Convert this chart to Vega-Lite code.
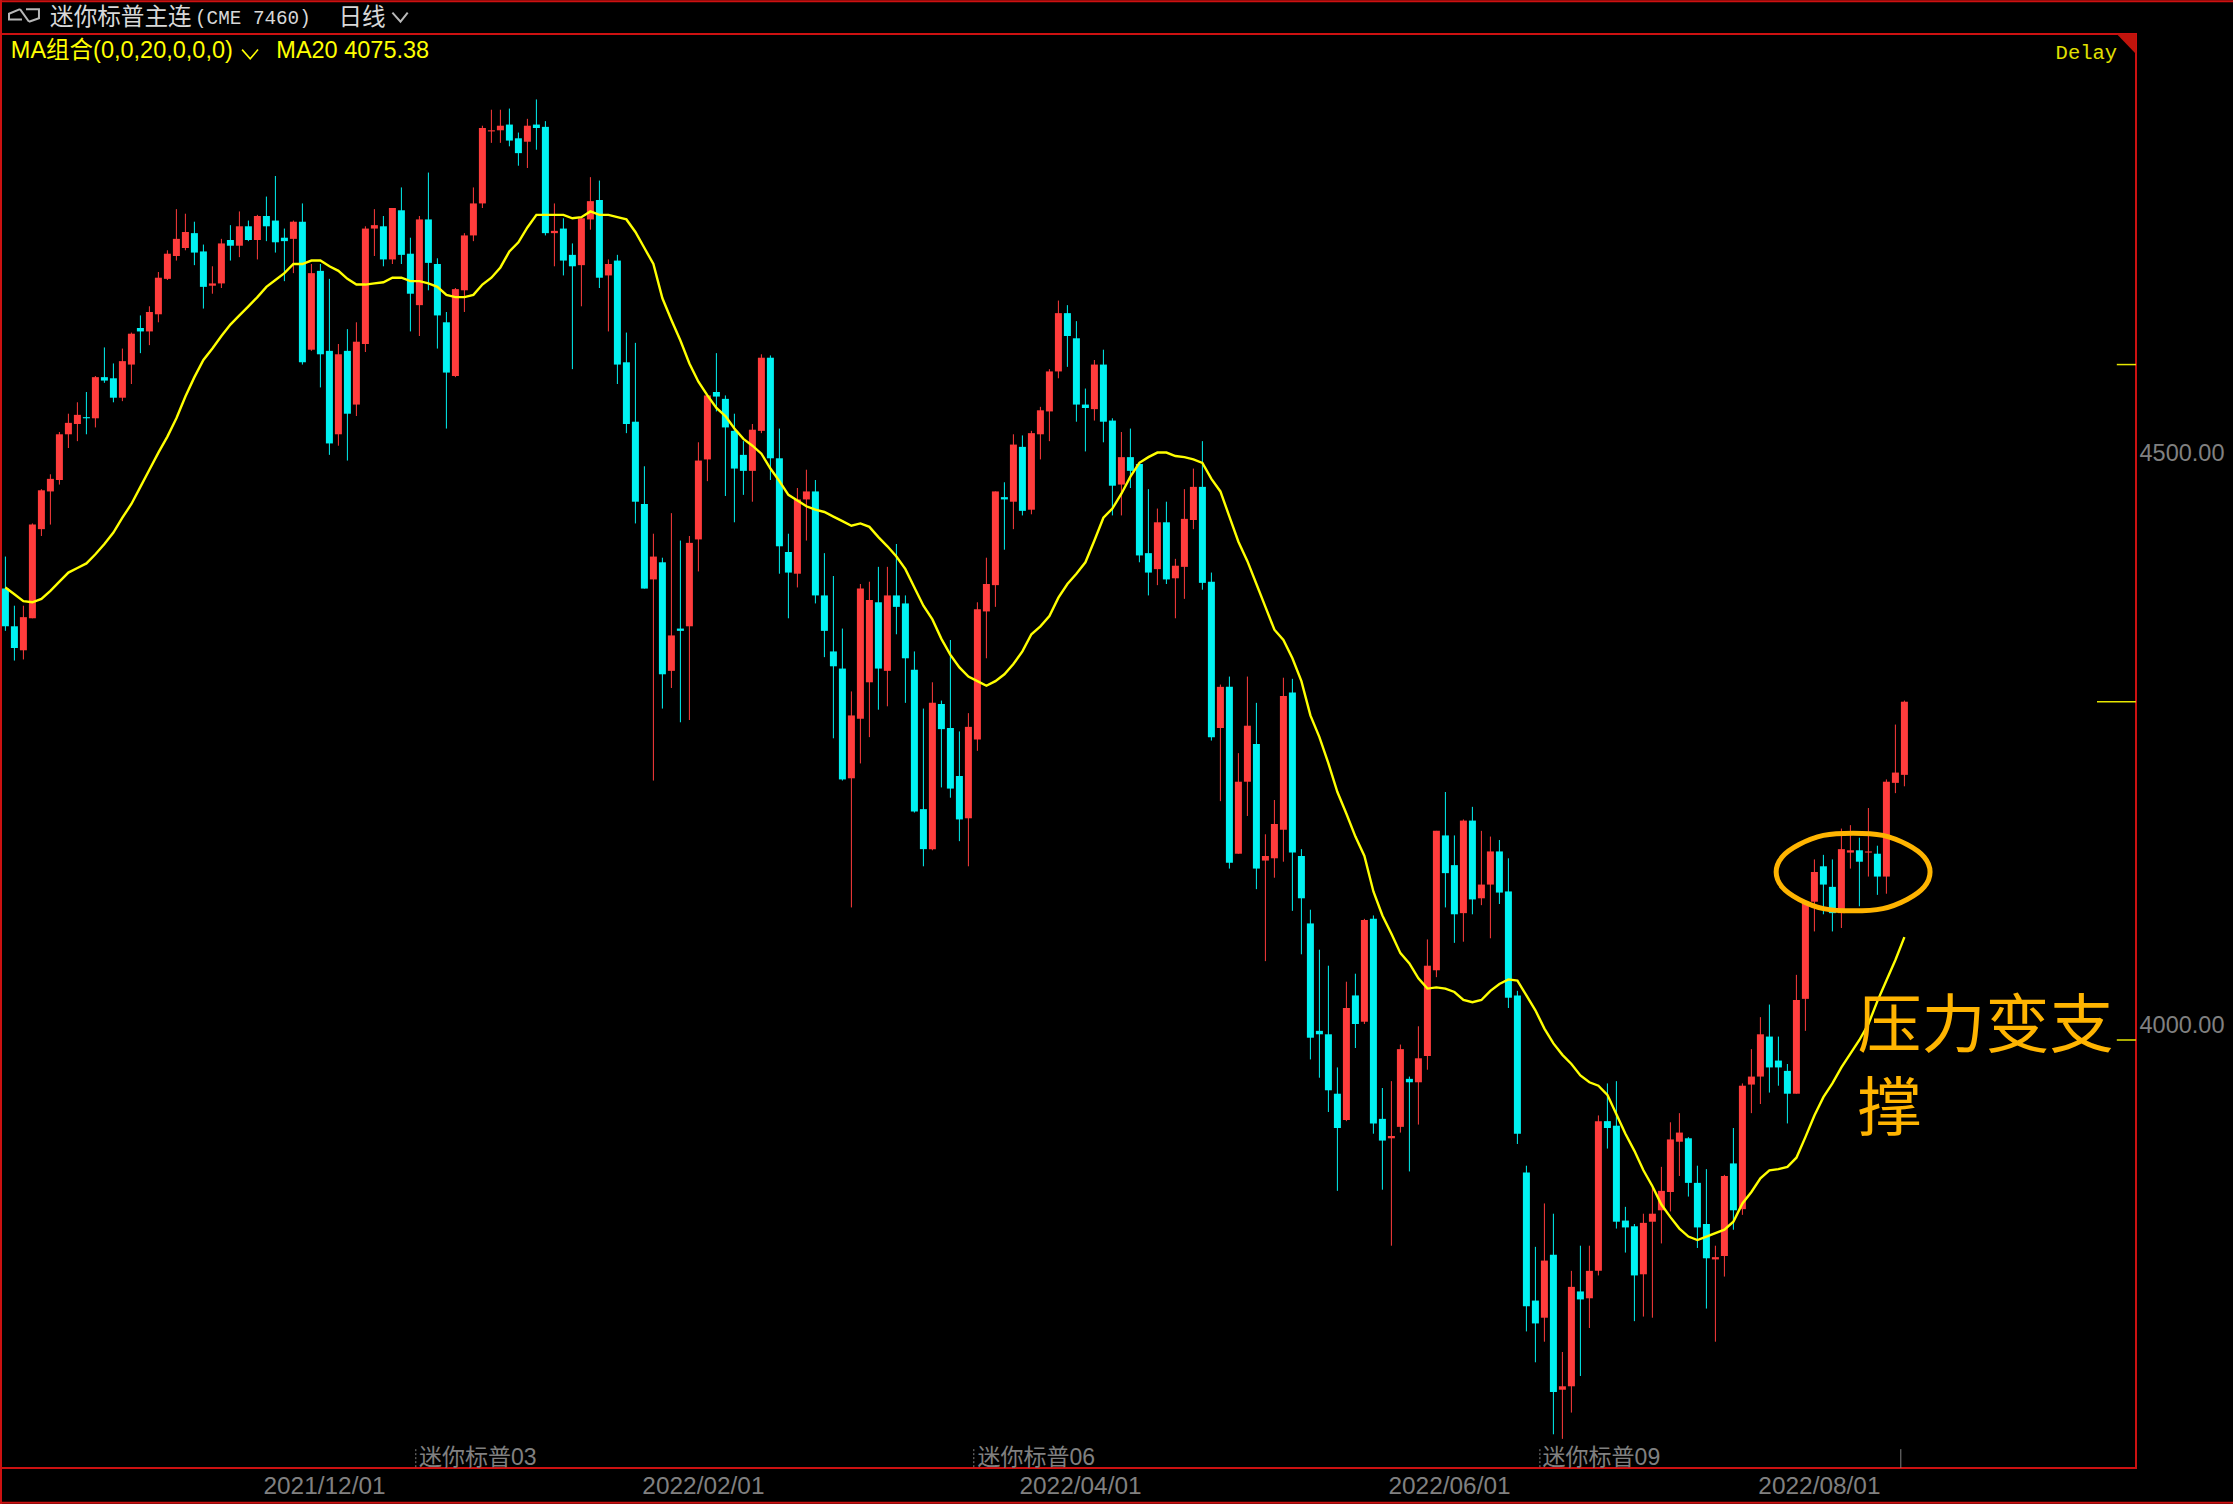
{"$schema":"https://vega.github.io/schema/vega-lite/v6.json","width":2135,"height":1434,"padding":{"left":1,"top":34,"right":97,"bottom":36},"autosize":{"type":"none"},"background":"#000000","view":{"stroke":"#cc1111","strokeWidth":2,"fill":"#000000"},"config":{"scale":{"continuousPadding":0}},
"datasets":{"bars":[
{"i":0,"o":4395,"h":4423,"l":4358,"c":4362,"m":4396},{"i":1,"o":4362,"h":4380,"l":4332,"c":4343,"m":4390},{"i":2,"o":4341,"h":4380,"l":4333,"c":4370,"m":4384},{"i":3,"o":4369,"h":4452,"l":4369,"c":4451,"m":4383},{"i":4,"o":4447,"h":4482,"l":4441,"c":4481,"m":4386},{"i":5,"o":4480,"h":4495,"l":4451,"c":4491,"m":4393},{"i":6,"o":4490,"h":4532,"l":4486,"c":4530,"m":4401},{"i":7,"o":4530,"h":4548,"l":4518,"c":4540,"m":4409},{"i":8,"o":4539,"h":4558,"l":4524,"c":4547,"m":4413},{"i":9,"o":4545,"h":4567,"l":4530,"c":4544,"m":4417},
{"i":10,"o":4544,"h":4581,"l":4536,"c":4580,"m":4425},{"i":11,"o":4580,"h":4606,"l":4575,"c":4577,"m":4434},{"i":12,"o":4579,"h":4592,"l":4558,"c":4562,"m":4444},{"i":13,"o":4562,"h":4605,"l":4559,"c":4594,"m":4457},{"i":14,"o":4591,"h":4619,"l":4574,"c":4618,"m":4469},{"i":15,"o":4623,"h":4634,"l":4601,"c":4620,"m":4484},{"i":16,"o":4620,"h":4642,"l":4608,"c":4637,"m":4499},{"i":17,"o":4635,"h":4672,"l":4628,"c":4667,"m":4514},{"i":18,"o":4666,"h":4691,"l":4665,"c":4688,"m":4528},{"i":19,"o":4686,"h":4727,"l":4682,"c":4701,"m":4544},
{"i":20,"o":4693,"h":4723,"l":4691,"c":4707,"m":4563},{"i":21,"o":4706,"h":4716,"l":4678,"c":4689,"m":4580},{"i":22,"o":4690,"h":4696,"l":4640,"c":4659,"m":4595},{"i":23,"o":4660,"h":4677,"l":4653,"c":4662,"m":4605},{"i":24,"o":4662,"h":4701,"l":4658,"c":4697,"m":4616},{"i":25,"o":4700,"h":4713,"l":4682,"c":4695,"m":4626},{"i":26,"o":4695,"h":4725,"l":4685,"c":4712,"m":4634},{"i":27,"o":4712,"h":4717,"l":4699,"c":4700,"m":4642},{"i":28,"o":4700,"h":4722,"l":4683,"c":4721,"m":4650},{"i":29,"o":4721,"h":4738,"l":4699,"c":4712,"m":4659},
{"i":30,"o":4717,"h":4756,"l":4689,"c":4698,"m":4665},{"i":31,"o":4702,"h":4710,"l":4664,"c":4699,"m":4671},{"i":32,"o":4701,"h":4717,"l":4671,"c":4716,"m":4679},{"i":33,"o":4716,"h":4732,"l":4591,"c":4593,"m":4679},{"i":34,"o":4604,"h":4679,"l":4603,"c":4671,"m":4682},{"i":35,"o":4673,"h":4679,"l":4571,"c":4600,"m":4682},{"i":36,"o":4603,"h":4666,"l":4512,"c":4522,"m":4677},{"i":37,"o":4530,"h":4609,"l":4520,"c":4600,"m":4673},{"i":38,"o":4603,"h":4622,"l":4507,"c":4548,"m":4666},{"i":39,"o":4556,"h":4628,"l":4546,"c":4611,"m":4661},
{"i":40,"o":4609,"h":4712,"l":4602,"c":4710,"m":4661},{"i":41,"o":4710,"h":4727,"l":4686,"c":4713,"m":4662},{"i":42,"o":4712,"h":4721,"l":4677,"c":4683,"m":4663},{"i":43,"o":4683,"h":4728,"l":4679,"c":4728,"m":4667},{"i":44,"o":4726,"h":4746,"l":4679,"c":4687,"m":4667},{"i":45,"o":4688,"h":4702,"l":4620,"c":4653,"m":4664},{"i":46,"o":4643,"h":4721,"l":4616,"c":4718,"m":4664},{"i":47,"o":4718,"h":4759,"l":4656,"c":4680,"m":4662},{"i":48,"o":4679,"h":4684,"l":4605,"c":4634,"m":4659},{"i":49,"o":4628,"h":4637,"l":4535,"c":4584,"m":4652},
{"i":50,"o":4581,"h":4658,"l":4580,"c":4657,"m":4650},{"i":51,"o":4656,"h":4706,"l":4637,"c":4704,"m":4650},{"i":52,"o":4704,"h":4746,"l":4699,"c":4732,"m":4652},{"i":53,"o":4732,"h":4800,"l":4728,"c":4798,"m":4661},{"i":54,"o":4795,"h":4814,"l":4785,"c":4796,"m":4667},{"i":55,"o":4796,"h":4814,"l":4785,"c":4800,"m":4676},{"i":56,"o":4801,"h":4815,"l":4782,"c":4787,"m":4690},{"i":57,"o":4789,"h":4794,"l":4765,"c":4776,"m":4698},{"i":58,"o":4786,"h":4806,"l":4763,"c":4800,"m":4711},{"i":59,"o":4801,"h":4823,"l":4779,"c":4798,"m":4722},
{"i":60,"o":4799,"h":4804,"l":4704,"c":4706,"m":4722},{"i":61,"o":4706,"h":4732,"l":4677,"c":4708,"m":4722},{"i":62,"o":4710,"h":4719,"l":4669,"c":4682,"m":4722},{"i":63,"o":4687,"h":4697,"l":4587,"c":4677,"m":4719},{"i":64,"o":4678,"h":4719,"l":4642,"c":4719,"m":4720},{"i":65,"o":4718,"h":4755,"l":4709,"c":4734,"m":4725},{"i":66,"o":4735,"h":4752,"l":4658,"c":4667,"m":4722},{"i":67,"o":4669,"h":4683,"l":4620,"c":4679,"m":4722},{"i":68,"o":4682,"h":4687,"l":4574,"c":4591,"m":4720},{"i":69,"o":4593,"h":4619,"l":4531,"c":4539,"m":4718},
{"i":70,"o":4541,"h":4610,"l":4452,"c":4471,"m":4707},{"i":71,"o":4469,"h":4502,"l":4395,"c":4395,"m":4693},{"i":72,"o":4403,"h":4443,"l":4227,"c":4423,"m":4679},{"i":73,"o":4418,"h":4422,"l":4290,"c":4320,"m":4649},{"i":74,"o":4323,"h":4461,"l":4308,"c":4354,"m":4630},{"i":75,"o":4360,"h":4437,"l":4278,"c":4358,"m":4612},{"i":76,"o":4362,"h":4441,"l":4280,"c":4435,"m":4592},{"i":77,"o":4438,"h":4523,"l":4410,"c":4507,"m":4576},{"i":78,"o":4508,"h":4564,"l":4489,"c":4564,"m":4564},{"i":79,"o":4567,"h":4601,"l":4550,"c":4563,"m":4553},
{"i":80,"o":4561,"h":4564,"l":4476,"c":4536,"m":4546},{"i":81,"o":4533,"h":4548,"l":4453,"c":4500,"m":4535},{"i":82,"o":4512,"h":4524,"l":4477,"c":4498,"m":4526},{"i":83,"o":4498,"h":4539,"l":4471,"c":4534,"m":4520},{"i":84,"o":4533,"h":4600,"l":4531,"c":4597,"m":4513},{"i":85,"o":4597,"h":4599,"l":4490,"c":4509,"m":4500},{"i":86,"o":4509,"h":4535,"l":4408,"c":4432,"m":4489},{"i":87,"o":4427,"h":4443,"l":4369,"c":4409,"m":4477},{"i":88,"o":4408,"h":4483,"l":4396,"c":4473,"m":4472},{"i":89,"o":4473,"h":4499,"l":4437,"c":4480,"m":4467},
{"i":90,"o":4480,"h":4490,"l":4382,"c":4389,"m":4464},{"i":91,"o":4389,"h":4426,"l":4335,"c":4358,"m":4462},{"i":92,"o":4340,"h":4406,"l":4264,"c":4327,"m":4458},{"i":93,"o":4325,"h":4360,"l":4227,"c":4228,"m":4454},{"i":94,"o":4229,"h":4305,"l":4116,"c":4284,"m":4450},{"i":95,"o":4281,"h":4399,"l":4242,"c":4395,"m":4452},{"i":96,"o":4313,"h":4401,"l":4265,"c":4385,"m":4449},{"i":97,"o":4383,"h":4414,"l":4289,"c":4325,"m":4440},{"i":98,"o":4323,"h":4414,"l":4292,"c":4389,"m":4432},{"i":99,"o":4389,"h":4434,"l":4355,"c":4379,"m":4423},
{"i":100,"o":4382,"h":4389,"l":4295,"c":4334,"m":4412},{"i":101,"o":4324,"h":4340,"l":4199,"c":4200,"m":4396},{"i":102,"o":4202,"h":4290,"l":4152,"c":4167,"m":4380},{"i":103,"o":4167,"h":4313,"l":4166,"c":4295,"m":4368},{"i":104,"o":4294,"h":4297,"l":4221,"c":4272,"m":4351},{"i":105,"o":4273,"h":4350,"l":4212,"c":4220,"m":4337},{"i":106,"o":4231,"h":4270,"l":4174,"c":4193,"m":4326},{"i":107,"o":4194,"h":4286,"l":4152,"c":4274,"m":4318},{"i":108,"o":4263,"h":4383,"l":4253,"c":4377,"m":4314},{"i":109,"o":4375,"h":4422,"l":4334,"c":4399,"m":4310},
{"i":110,"o":4398,"h":4480,"l":4379,"c":4480,"m":4314},{"i":111,"o":4475,"h":4488,"l":4429,"c":4473,"m":4320},{"i":112,"o":4471,"h":4530,"l":4447,"c":4521,"m":4329},{"i":113,"o":4519,"h":4529,"l":4459,"c":4463,"m":4340},{"i":114,"o":4464,"h":4533,"l":4460,"c":4531,"m":4355},{"i":115,"o":4530,"h":4554,"l":4508,"c":4551,"m":4362},{"i":116,"o":4550,"h":4587,"l":4524,"c":4585,"m":4371},{"i":117,"o":4585,"h":4647,"l":4579,"c":4636,"m":4387},{"i":118,"o":4636,"h":4643,"l":4589,"c":4616,"m":4399},{"i":119,"o":4614,"h":4629,"l":4541,"c":4556,"m":4408},
{"i":120,"o":4556,"h":4570,"l":4515,"c":4553,"m":4418},{"i":121,"o":4552,"h":4595,"l":4542,"c":4591,"m":4437},{"i":122,"o":4591,"h":4604,"l":4523,"c":4541,"m":4457},{"i":123,"o":4542,"h":4544,"l":4459,"c":4485,"m":4465},{"i":124,"o":4486,"h":4532,"l":4459,"c":4510,"m":4478},{"i":125,"o":4510,"h":4535,"l":4483,"c":4498,"m":4493},{"i":126,"o":4504,"h":4506,"l":4418,"c":4424,"m":4505},{"i":127,"o":4426,"h":4482,"l":4389,"c":4409,"m":4510},{"i":128,"o":4412,"h":4465,"l":4398,"c":4453,"m":4514},{"i":129,"o":4453,"h":4471,"l":4399,"c":4403,"m":4514},
{"i":130,"o":4404,"h":4421,"l":4369,"c":4415,"m":4511},{"i":131,"o":4414,"h":4482,"l":4386,"c":4456,"m":4510},{"i":132,"o":4455,"h":4500,"l":4447,"c":4484,"m":4508},{"i":133,"o":4484,"h":4524,"l":4394,"c":4400,"m":4505},{"i":134,"o":4401,"h":4409,"l":4262,"c":4265,"m":4491},{"i":135,"o":4273,"h":4311,"l":4209,"c":4309,"m":4480},{"i":136,"o":4309,"h":4318,"l":4150,"c":4155,"m":4458},{"i":137,"o":4163,"h":4251,"l":4163,"c":4226,"m":4436},{"i":138,"o":4226,"h":4318,"l":4196,"c":4275,"m":4419},{"i":139,"o":4259,"h":4295,"l":4132,"c":4150,"m":4399},
{"i":140,"o":4157,"h":4180,"l":4069,"c":4161,"m":4379},{"i":141,"o":4159,"h":4210,"l":4142,"c":4189,"m":4359},{"i":142,"o":4184,"h":4317,"l":4156,"c":4301,"m":4350},{"i":143,"o":4304,"h":4316,"l":4113,"c":4164,"m":4334},{"i":144,"o":4161,"h":4167,"l":4075,"c":4124,"m":4314},{"i":145,"o":4102,"h":4114,"l":3983,"c":4002,"m":4284},{"i":146,"o":4008,"h":4079,"l":3967,"c":4005,"m":4265},{"i":147,"o":4005,"h":4065,"l":3937,"c":3956,"m":4242},{"i":148,"o":3953,"h":3976,"l":3868,"c":3923,"m":4217},{"i":149,"o":3930,"h":4051,"l":3929,"c":4028,"m":4198},
{"i":150,"o":4039,"h":4058,"l":3993,"c":4014,"m":4178},{"i":151,"o":4016,"h":4106,"l":4014,"c":4105,"m":4161},{"i":152,"o":4106,"h":4109,"l":3918,"c":3927,"m":4130},{"i":153,"o":3931,"h":3958,"l":3869,"c":3912,"m":4109},{"i":154,"o":3914,"h":3964,"l":3820,"c":3916,"m":4093},{"i":155,"o":3924,"h":3996,"l":3919,"c":3992,"m":4076},{"i":156,"o":3966,"h":3968,"l":3885,"c":3963,"m":4067},{"i":157,"o":3963,"h":4012,"l":3926,"c":3984,"m":4054},{"i":158,"o":3986,"h":4088,"l":3974,"c":4065,"m":4045},{"i":159,"o":4061,"h":4183,"l":4055,"c":4183,"m":4046},
{"i":160,"o":4179,"h":4217,"l":4116,"c":4146,"m":4045},{"i":161,"o":4153,"h":4179,"l":4085,"c":4110,"m":4042},{"i":162,"o":4111,"h":4193,"l":4086,"c":4192,"m":4035},{"i":163,"o":4192,"h":4204,"l":4110,"c":4123,"m":4033},{"i":164,"o":4124,"h":4183,"l":4118,"c":4136,"m":4035},{"i":165,"o":4136,"h":4178,"l":4089,"c":4165,"m":4043},{"i":166,"o":4165,"h":4175,"l":4119,"c":4129,"m":4049},{"i":167,"o":4130,"h":4159,"l":4028,"c":4037,"m":4053},{"i":168,"o":4039,"h":4043,"l":3909,"c":3918,"m":4052},{"i":169,"o":3884,"h":3890,"l":3745,"c":3767,"m":4039},
{"i":170,"o":3772,"h":3819,"l":3718,"c":3752,"m":4026},{"i":171,"o":3757,"h":3857,"l":3736,"c":3807,"m":4010},{"i":172,"o":3812,"h":3848,"l":3655,"c":3692,"m":3997},{"i":173,"o":3694,"h":3727,"l":3651,"c":3697,"m":3987},{"i":174,"o":3697,"h":3798,"l":3674,"c":3784,"m":3979},{"i":175,"o":3780,"h":3820,"l":3706,"c":3773,"m":3969},{"i":176,"o":3774,"h":3820,"l":3748,"c":3798,"m":3963},{"i":177,"o":3798,"h":3934,"l":3794,"c":3929,"m":3960},{"i":178,"o":3929,"h":3962,"l":3905,"c":3923,"m":3952},{"i":179,"o":3925,"h":3964,"l":3835,"c":3841,"m":3935},
{"i":180,"o":3842,"h":3854,"l":3814,"c":3836,"m":3918},{"i":181,"o":3837,"h":3839,"l":3754,"c":3794,"m":3903},{"i":182,"o":3795,"h":3848,"l":3758,"c":3840,"m":3886},{"i":183,"o":3841,"h":3871,"l":3757,"c":3848,"m":3872},{"i":184,"o":3851,"h":3889,"l":3822,"c":3868,"m":3856},{"i":185,"o":3867,"h":3928,"l":3850,"c":3913,"m":3845},{"i":186,"o":3911,"h":3936,"l":3881,"c":3919,"m":3835},{"i":187,"o":3914,"h":3915,"l":3863,"c":3875,"m":3828},{"i":188,"o":3875,"h":3890,"l":3818,"c":3836,"m":3825},{"i":189,"o":3839,"h":3887,"l":3765,"c":3809,"m":3828},
{"i":190,"o":3808,"h":3820,"l":3736,"c":3810,"m":3831},{"i":191,"o":3811,"h":3882,"l":3793,"c":3881,"m":3834},{"i":192,"o":3892,"h":3923,"l":3834,"c":3851,"m":3841},{"i":193,"o":3852,"h":3962,"l":3847,"c":3960,"m":3857},{"i":194,"o":3961,"h":3992,"l":3936,"c":3968,"m":3867},{"i":195,"o":3968,"h":4020,"l":3944,"c":4005,"m":3879},{"i":196,"o":4003,"h":4031,"l":3954,"c":3976,"m":3886},{"i":197,"o":3982,"h":4003,"l":3960,"c":3976,"m":3887},{"i":198,"o":3973,"h":3979,"l":3927,"c":3953,"m":3889},{"i":199,"o":3953,"h":4057,"l":3953,"c":4035,"m":3897},
{"i":200,"o":4036,"h":4122,"l":4008,"c":4121,"m":3915},{"i":201,"o":4121,"h":4158,"l":4095,"c":4147,"m":3934},{"i":202,"o":4152,"h":4162,"l":4110,"c":4136,"m":3950},{"i":203,"o":4134,"h":4158,"l":4095,"c":4111,"m":3962},{"i":204,"o":4111,"h":4185,"l":4098,"c":4167,"m":3976},{"i":205,"o":4164,"h":4188,"l":4150,"c":4166,"m":3988},{"i":206,"o":4166,"h":4177,"l":4117,"c":4156,"m":4000},{"i":207,"o":4164,"h":4203,"l":4143,"c":4165,"m":4014},{"i":208,"o":4163,"h":4170,"l":4127,"c":4143,"m":4034},{"i":209,"o":4143,"h":4228,"l":4128,"c":4226,"m":4052},
{"i":210,"o":4225,"h":4276,"l":4216,"c":4234,"m":4070},{"i":211,"o":4232,"h":4297,"l":4222,"c":4296,"m":4090}
],
"ellipse":[{"n":0,"i":196.75,"p":4147},{"n":1,"i":197.4,"p":4160},{"n":2,"i":199.3,"p":4171},{"n":3,"i":202,"p":4179},{"n":4,"i":205.3,"p":4181},{"n":5,"i":208.6,"p":4179},{"n":6,"i":211.3,"p":4171},{"n":7,"i":213.2,"p":4160},{"n":8,"i":213.85,"p":4147},{"n":9,"i":213.2,"p":4134},{"n":10,"i":211.3,"p":4123},{"n":11,"i":208.6,"p":4115},{"n":12,"i":205.3,"p":4113},{"n":13,"i":202,"p":4115},{"n":14,"i":199.3,"p":4123},{"n":15,"i":197.4,"p":4134}],
"frame":[{"g":"top","n":0,"i":-0.6,"p":4909},{"g":"top","n":1,"i":248.5,"p":4909},{"g":"bottom","n":0,"i":-0.6,"p":3595},{"g":"bottom","n":1,"i":248.5,"p":3595},{"g":"left","n":0,"i":-0.489,"p":4910},{"g":"left","n":1,"i":-0.489,"p":3594}],
"greyLines":[{"g":"chev","n":0,"i":43,"p":4899},{"g":"chev","n":1,"i":43.9,"p":4891},{"g":"chev","n":2,"i":44.7,"p":4899},{"g":"a","n":0,"i":1.62,"p":4902},{"g":"a","n":1,"i":0.4,"p":4898},{"g":"a","n":2,"i":0.4,"p":4893},{"g":"a","n":3,"i":1.84,"p":4893},{"g":"b","n":0,"i":1.62,"p":4902},{"g":"b","n":1,"i":2.62,"p":4891},{"g":"c","n":0,"i":2.29,"p":4902},{"g":"c","n":1,"i":3.73,"p":4902},{"g":"c","n":2,"i":3.73,"p":4894},{"g":"c","n":3,"i":2.62,"p":4891}],
"yellowChevron":[{"n":0,"i":26.3,"p":4866.6},{"n":1,"i":27.2,"p":4858.5},{"n":2,"i":28.07,"p":4866.6}],
"corner":[{"i":234.6,"p":4880.25,"p2":4880.25},{"i":236.73,"p":4880.25,"p2":4862.75}],
"ticks":[{"i":234.6,"i2":236.73,"p":4000},{"i":234.6,"i2":236.73,"p":4591},{"i":232.4,"i2":236.73,"p":4296}],
"contractMarks":[{"i":45.6,"p":3642,"p2":3625.5},{"i":107.6,"p":3642,"p2":3625.5},{"i":170.5,"p":3642,"p2":3625.5}],
"lastMark":[{"i":210.6,"p":3642,"p2":3625.5}],
"contractLabels":[{"i":45.96,"p":3628,"t":"迷你标普03"},{"i":108,"p":3628,"t":"迷你标普06"},{"i":170.8,"p":3628,"t":"迷你标普09"}],
"headerCjk":[{"i":4.96,"p":4894,"t":"迷你标普主连"},{"i":37,"p":4894,"t":"日线"}],
"headerCode":[{"i":21.07,"p":4894,"t":"(CME 7460)"}],
"maLabels":[{"i":0.6,"p":4865,"t":"MA组合(0,0,20,0,0,0)"},{"i":30.1,"p":4865,"t":"MA20 4075.38"}],
"delay":[{"i":227.8,"p":4863.6,"t":"Delay"}],
"note":[{"i":205.8,"p":3994,"t":"压力变支"},{"i":205.8,"p":3921,"t":"撑"}]},
"layer":[
{"data":{"name":"frame"},"mark":{"type":"line","stroke":"#cc1111","strokeWidth":2,"clip":false},"encoding":{"x":{"field":"i","type":"quantitative","title":null,"scale":{"domain":[-0.489,236.733],"nice":false,"zero":false,"padding":0},"axis":{"title":null,"grid":false,"ticks":false,"domain":false,"values":[35.4,77.5,119.4,160.4,201.5],"labelExpr":"datum.value==35.4?'2021/12/01':datum.value==77.5?'2022/02/01':datum.value==119.4?'2022/04/01':datum.value==160.4?'2022/06/01':'2022/08/01'","labelFont":"Liberation Sans","labelFontSize":24.4,"labelColor":"#808080","labelPadding":6,"labelOverlap":false,"labelFlush":false}},"y":{"field":"p","type":"quantitative","title":null,"scale":{"domain":[3625.5,4880.25],"nice":false,"zero":false},"axis":{"title":null,"orient":"right","grid":false,"ticks":false,"domain":false,"values":[4000,4500],"format":".2f","labelFont":"Liberation Sans","labelFontSize":23.5,"labelColor":"#808080","labelPadding":3,"labelOffset":-15,"labelOverlap":false,"labelFlush":false}},"detail":{"field":"g"},"order":{"field":"n"}}},
{"data":{"name":"bars"},"mark":{"type":"rule","strokeWidth":1},"encoding":{"x":{"field":"i","type":"quantitative","title":null},"y":{"field":"h","type":"quantitative","title":null},"y2":{"field":"l"},"color":{"condition":{"test":"datum.c>=datum.o","value":"#ff3c3c"},"value":"#00f2f2"}}},
{"data":{"name":"bars"},"mark":{"type":"bar","size":7},"encoding":{"x":{"field":"i","type":"quantitative","title":null},"y":{"field":"o","type":"quantitative","title":null},"y2":{"field":"c"},"color":{"condition":{"test":"datum.c>=datum.o","value":"#ff3c3c"},"value":"#00f2f2"}}},
{"data":{"name":"bars"},"mark":{"type":"line","stroke":"#ffff00","strokeWidth":2.4},"encoding":{"x":{"field":"i","type":"quantitative","title":null},"y":{"field":"m","type":"quantitative","title":null}}},
{"data":{"name":"ellipse"},"mark":{"type":"line","stroke":"#ffb400","strokeWidth":5,"interpolate":"cardinal-closed"},"encoding":{"x":{"field":"i","type":"quantitative","title":null},"y":{"field":"p","type":"quantitative","title":null},"order":{"field":"n"}}},
{"data":{"name":"greyLines"},"mark":{"type":"line","stroke":"#b8b8b8","strokeWidth":2,"clip":false},"encoding":{"x":{"field":"i","type":"quantitative","title":null},"y":{"field":"p","type":"quantitative","title":null},"detail":{"field":"g"},"order":{"field":"n"}}},
{"data":{"name":"yellowChevron"},"mark":{"type":"line","stroke":"#ffff00","strokeWidth":1.6},"encoding":{"x":{"field":"i","type":"quantitative","title":null},"y":{"field":"p","type":"quantitative","title":null},"order":{"field":"n"}}},
{"data":{"name":"corner"},"mark":{"type":"area","fill":"#c0140c"},"encoding":{"x":{"field":"i","type":"quantitative","title":null},"y":{"field":"p","type":"quantitative","title":null},"y2":{"field":"p2"}}},
{"data":{"name":"ticks"},"mark":{"type":"rule","stroke":"#e6e600","strokeWidth":1.5},"encoding":{"x":{"field":"i","type":"quantitative","title":null},"x2":{"field":"i2"},"y":{"field":"p","type":"quantitative","title":null}}},
{"data":{"name":"contractMarks"},"mark":{"type":"rule","stroke":"#808080","strokeWidth":1,"strokeDash":[2,2]},"encoding":{"x":{"field":"i","type":"quantitative","title":null},"y":{"field":"p","type":"quantitative","title":null},"y2":{"field":"p2"}}},
{"data":{"name":"lastMark"},"mark":{"type":"rule","stroke":"#808080","strokeWidth":1},"encoding":{"x":{"field":"i","type":"quantitative","title":null},"y":{"field":"p","type":"quantitative","title":null},"y2":{"field":"p2"}}},
{"data":{"name":"contractLabels"},"mark":{"type":"text","align":"left","baseline":"alphabetic","font":"Liberation Sans, Noto Sans CJK SC","fontSize":23,"color":"#808080"},"encoding":{"x":{"field":"i","type":"quantitative","title":null},"y":{"field":"p","type":"quantitative","title":null},"text":{"field":"t"}}},
{"data":{"name":"headerCjk"},"mark":{"type":"text","align":"left","baseline":"middle","font":"Liberation Sans, Noto Sans CJK SC","fontSize":23.6,"color":"#d8d8d8"},"encoding":{"x":{"field":"i","type":"quantitative","title":null},"y":{"field":"p","type":"quantitative","title":null},"text":{"field":"t"}}},
{"data":{"name":"headerCode"},"mark":{"type":"text","align":"left","baseline":"middle","font":"Liberation Mono","fontSize":19.3,"color":"#d8d8d8"},"encoding":{"x":{"field":"i","type":"quantitative","title":null},"y":{"field":"p","type":"quantitative","title":null},"text":{"field":"t"}}},
{"data":{"name":"maLabels"},"mark":{"type":"text","align":"left","baseline":"middle","font":"Liberation Sans, Noto Sans CJK SC","fontSize":23.5,"color":"#ffff00"},"encoding":{"x":{"field":"i","type":"quantitative","title":null},"y":{"field":"p","type":"quantitative","title":null},"text":{"field":"t"}}},
{"data":{"name":"delay"},"mark":{"type":"text","align":"left","baseline":"middle","font":"Liberation Mono","fontSize":20.5,"color":"#e0e000"},"encoding":{"x":{"field":"i","type":"quantitative","title":null},"y":{"field":"p","type":"quantitative","title":null},"text":{"field":"t"}}},
{"data":{"name":"note"},"mark":{"type":"text","align":"left","baseline":"alphabetic","font":"Noto Sans CJK SC","fontSize":64,"color":"#ffb400"},"encoding":{"x":{"field":"i","type":"quantitative","title":null},"y":{"field":"p","type":"quantitative","title":null},"text":{"field":"t"}}}
]}
